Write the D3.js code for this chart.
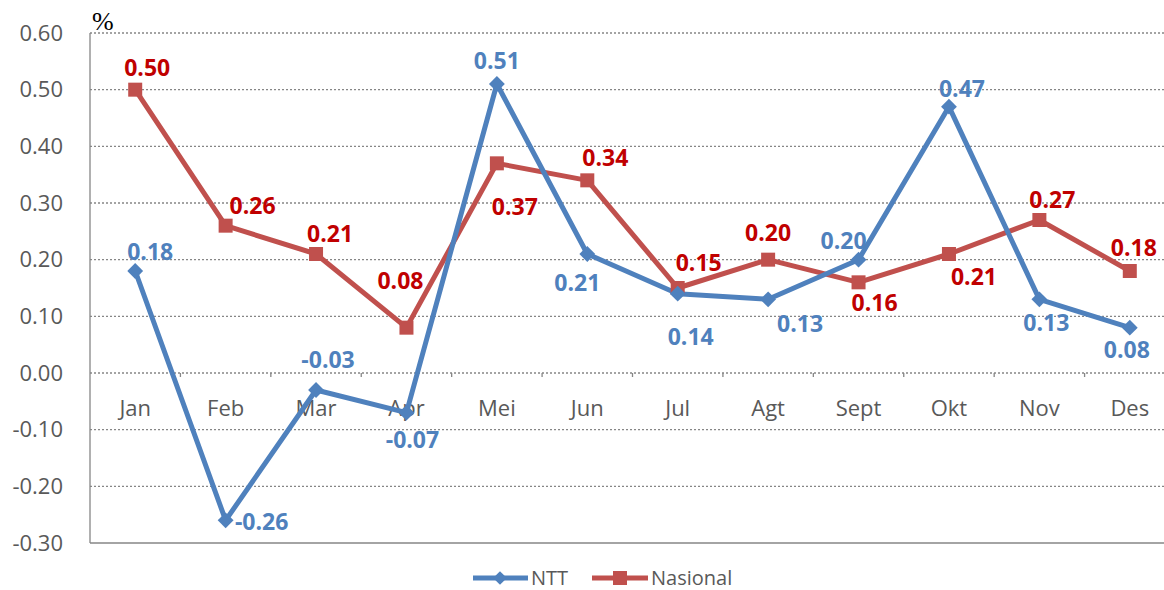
<!DOCTYPE html>
<html>
<head>
<meta charset="utf-8">
<script src="https://cdn.jsdelivr.net/npm/d3@7"></script>
<style>
  body { margin: 0; background: #fff; }
  svg { display: block; font-family: "Open Sans", sans-serif; }
</style>
</head>
<body>
<svg width="1164" height="590"></svg>
<script>
// Data
const months = ['Jan', 'Feb', 'Mar', 'Apr', 'Mei', 'Jun', 'Jul', 'Agt', 'Sept', 'Okt', 'Nov', 'Des'];
const ntt = [0.18, -0.26, -0.03, -0.07, 0.51, 0.21, 0.14, 0.13, 0.20, 0.47, 0.13, 0.08];
const nasional = [0.50, 0.26, 0.21, 0.08, 0.37, 0.34, 0.15, 0.20, 0.16, 0.21, 0.27, 0.18];
const yTicks = [-0.30, -0.20, -0.10, 0.00, 0.10, 0.20, 0.30, 0.40, 0.50, 0.60];

// label placement (offset from the point, in px)
const nttLabelPos = [[15, -19], [36, 2], [12, -30], [6, 27], [0, -23], [-10, 29], [13, 43], [32, 25], [-15, -19], [13, -18], [7, 24], [-3, 22]];
const nasLabelPos = [[12, -22], [27, -20], [14, -20], [-6, -47], [18, 44], [18, -22], [21, -25], [0, -27], [16, 21], [25, 23], [13, -20], [4, -23]];

const blue = '#4f81bd', red = '#c0504d';
const blueText = '#4f81bd', redText = '#c00000';
const grey = '#595959';

// hyphen minus like the original, not the unicode minus
const fmt = d => d3.format('.2f')(d).replace('\u2212', '-');

const svg = d3.select('svg');
const x = d3.scaleBand().domain(months).range([90, 1175]).padding(0);
const y = d3.scaleLinear().domain([-0.3, 0.6]).range([543, 33]);
const cx = m => x(m) + x.bandwidth() / 2;

// gridlines
svg.append('g').selectAll('line')
  .data(yTicks.filter(t => t > -0.3))
  .join('line')
  .attr('x1', 90).attr('x2', 1164)
  .attr('y1', d => y(d)).attr('y2', d => y(d))
  .attr('stroke', '#868686').attr('stroke-width', 1.3)
  .attr('stroke-dasharray', '2,2');

// axes lines
svg.append('line').attr('x1', 90).attr('x2', 90).attr('y1', y(0.6)).attr('y2', y(-0.3))
  .attr('stroke', '#868686').attr('stroke-width', 1.3);
svg.append('line').attr('x1', 90).attr('x2', 1164).attr('y1', y(-0.3)).attr('y2', y(-0.3))
  .attr('stroke', '#868686').attr('stroke-width', 1.3);

// category tick marks on the zero line
svg.append('g').selectAll('line')
  .data(months.slice(1))
  .join('line')
  .attr('x1', d => x(d)).attr('x2', d => x(d))
  .attr('y1', y(0)).attr('y2', y(0) + 4)
  .attr('stroke', '#868686').attr('stroke-width', 1.3);

// y tick labels
const yAxis = d3.axisLeft(y).tickValues(yTicks).tickFormat(fmt).tickSize(0).tickPadding(27);
const gy = svg.append('g').attr('transform', 'translate(90,0)').call(yAxis);
gy.select('.domain').remove();
gy.selectAll('text').attr('fill', grey).style('font-size', '22px').style('font-family', '"Open Sans", sans-serif');

// category labels
svg.append('g').selectAll('text')
  .data(months)
  .join('text')
  .attr('x', d => cx(d)).attr('y', y(0) + 43)
  .attr('text-anchor', 'middle')
  .attr('fill', grey).style('font-size', '22px')
  .text(d => d);

// % label
svg.append('text').attr('x', 92).attr('y', 30).text('%')
  .style('font-family', '"Liberation Serif", serif').style('font-size', '26px').attr('fill', '#000');

const line = d3.line().x((d, i) => cx(months[i])).y(d => y(d));

// Nasional series
svg.append('path').datum(nasional).attr('d', line)
  .attr('fill', 'none').attr('stroke', red).attr('stroke-width', 5).attr('stroke-linejoin', 'round');
// NTT series
svg.append('path').datum(ntt).attr('d', line)
  .attr('fill', 'none').attr('stroke', blue).attr('stroke-width', 5).attr('stroke-linejoin', 'round');

svg.append('g').selectAll('rect')
  .data(nasional)
  .join('rect')
  .attr('x', (d, i) => cx(months[i]) - 7).attr('y', d => y(d) - 7)
  .attr('width', 14).attr('height', 14).attr('fill', red);

const diamond = d3.symbol().type(d3.symbolDiamond2).size(160);
svg.append('g').selectAll('path')
  .data(ntt)
  .join('path')
  .attr('d', diamond)
  .attr('transform', (d, i) => `translate(${cx(months[i])},${y(d)})`)
  .attr('fill', blue);

// data labels
function labels(data, pos, color) {
  svg.append('g').selectAll('text')
    .data(data)
    .join('text')
    .attr('x', (d, i) => cx(months[i]) + pos[i][0])
    .attr('y', (d, i) => y(d) + pos[i][1])
    .attr('dy', '0.35em')
    .attr('text-anchor', 'middle')
    .attr('fill', color)
    .style('font-size', '23px').style('font-weight', 'bold')
    .text(d => fmt(d));
}
labels(ntt, nttLabelPos, blueText);
labels(nasional, nasLabelPos, redText);

// legend
const lg = svg.append('g').attr('transform', 'translate(0,578)');
lg.append('line').attr('x1', 473).attr('x2', 528).attr('stroke', blue).attr('stroke-width', 5);
lg.append('path').attr('d', d3.symbol().type(d3.symbolDiamond2).size(120)).attr('transform', 'translate(500,0)').attr('fill', blue);
lg.append('text').attr('x', 531).attr('dy', '0.35em').attr('fill', grey).style('font-size', '20px').text('NTT');
lg.append('line').attr('x1', 592).attr('x2', 648).attr('stroke', red).attr('stroke-width', 5);
lg.append('rect').attr('x', 613).attr('y', -7).attr('width', 14).attr('height', 14).attr('fill', red);
lg.append('text').attr('x', 651).attr('dy', '0.35em').attr('fill', grey).style('font-size', '20px').text('Nasional');
</script>
</body>
</html>
